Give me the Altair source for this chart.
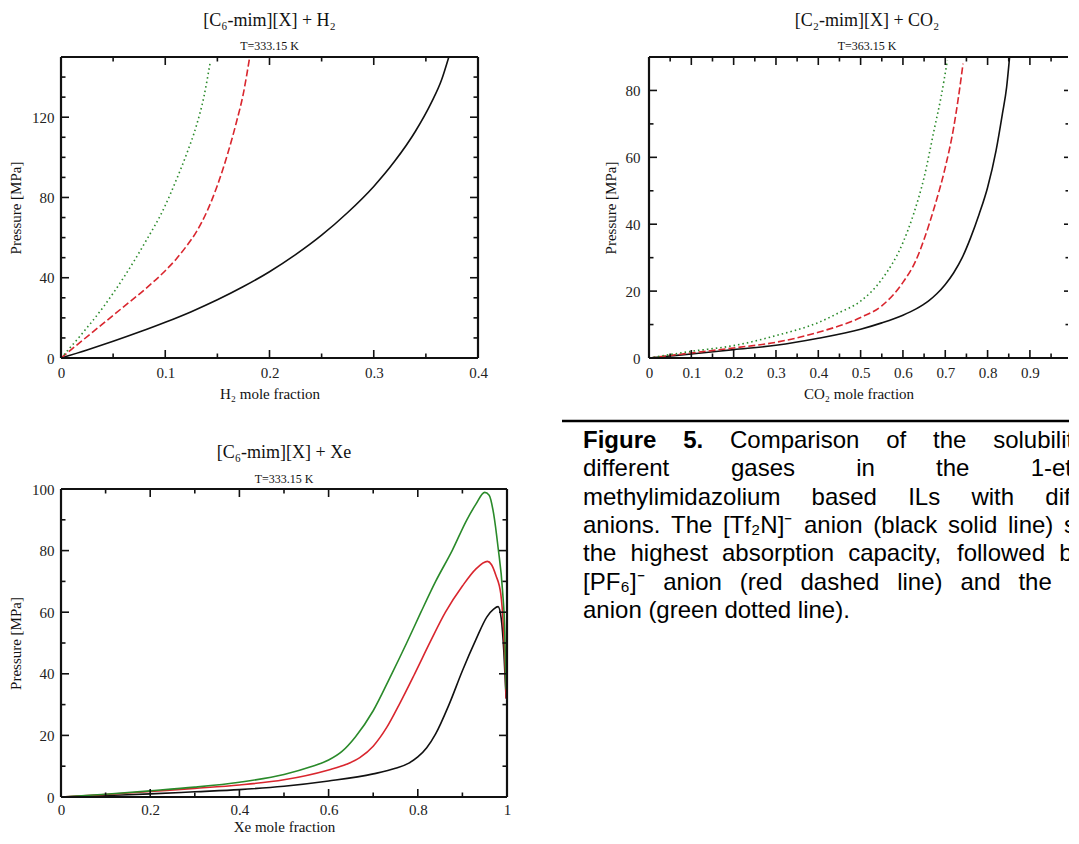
import altair as alt
import pandas as pd

# ---------------- data ----------------
# [C6-mim][X] + H2, T=333.15 K
h2_black_x = [0, 0.025, 0.05, 0.075, 0.1, 0.125, 0.15, 0.175, 0.2, 0.225, 0.25, 0.275, 0.3, 0.32, 0.34, 0.355, 0.365, 0.372]
h2_black_y = [0, 4, 8.3, 12.9, 17.8, 23.1, 29, 35.6, 43, 51.5, 61.2, 72.5, 85.5, 98, 113, 127, 138.5, 150]
h2_red_x = [0, 0.02, 0.04, 0.06, 0.08, 0.1, 0.11, 0.12, 0.13, 0.14, 0.15, 0.16, 0.168, 0.175, 0.181]
h2_red_y = [0, 8.5, 17, 25.5, 34, 43.5, 49, 55.5, 63, 73, 86, 102, 117, 132, 150]
h2_green_x = [0, 0.02, 0.04, 0.06, 0.08, 0.1, 0.11, 0.12, 0.13, 0.137, 0.143]
h2_green_y = [0, 12, 25, 40, 57, 76, 88, 101, 116, 130, 147]

# [C2-mim][X] + CO2, T=363.15 K
co2_black_x = [0, 0.05, 0.1, 0.2, 0.3, 0.4, 0.5, 0.55, 0.6, 0.63, 0.66, 0.68, 0.7, 0.72, 0.74, 0.76, 0.78, 0.8, 0.82, 0.835, 0.845, 0.852]
co2_black_y = [0, 0.6, 1.2, 2.5, 3.8, 5.9, 8.6, 10.5, 12.8, 14.6, 17, 19.2, 22, 25.5, 30, 36, 43, 51, 62, 73, 81, 90]
co2_red_x = [0, 0.1, 0.2, 0.3, 0.4, 0.5, 0.55, 0.6, 0.63, 0.65, 0.675, 0.7, 0.72, 0.73, 0.742]
co2_red_y = [0, 1.5, 3, 4.7, 7.7, 12.1, 15.6, 22.6, 29, 35.5, 45.4, 57, 69, 77, 88]
co2_green_x = [0, 0.1, 0.2, 0.3, 0.4, 0.45, 0.5, 0.55, 0.6, 0.625, 0.65, 0.675, 0.69, 0.705]
co2_green_y = [0, 2, 3.7, 6.7, 10.6, 13.6, 17, 23.5, 34.5, 43, 54, 69, 78, 89]

# [C6-mim][X] + Xe, T=333.15 K
xe_black_x = [0, 0.1, 0.2, 0.3, 0.4, 0.5, 0.6, 0.7, 0.75, 0.78, 0.8, 0.82, 0.84, 0.87, 0.9, 0.93, 0.955, 0.97, 0.98, 0.987, 0.993, 0.998]
xe_black_y = [0, 0.5, 1.0, 1.7, 2.4, 3.5, 5.2, 7.5, 9.3, 11, 13, 16, 20.5, 30, 41, 51, 58.5, 61, 61.8, 58, 47, 32]
xe_red_x = [0, 0.1, 0.2, 0.3, 0.4, 0.5, 0.6, 0.64, 0.67, 0.7, 0.73, 0.76, 0.793, 0.83, 0.862, 0.9, 0.93, 0.956, 0.965, 0.975, 0.986, 0.992, 0.996, 0.998]
xe_red_y = [0, 0.8, 1.8, 2.8, 3.9, 5.6, 8.8, 10.6, 12.8, 16.5, 22.5, 30.5, 40, 51, 60, 68.5, 74, 76.5, 75.5, 72, 66, 55, 42, 32]
xe_green_x = [0, 0.1, 0.2, 0.3, 0.4, 0.5, 0.56, 0.6, 0.63, 0.66, 0.7, 0.74, 0.775, 0.807, 0.84, 0.877, 0.91, 0.93, 0.95, 0.96, 0.97, 0.98, 0.99, 0.995, 0.998]
xe_green_y = [0, 0.9, 2.0, 3.2, 4.8, 7.3, 9.8, 12, 14.8, 19.5, 28, 39.5, 50, 60, 70, 80, 90, 95, 98.9, 98, 92, 81, 67, 54, 35]

# tick values
h2_x_major = [0, 0.1, 0.2, 0.3, 0.4]
h2_x_minor = [0.05, 0.15, 0.25, 0.35]
h2_y_major = [0, 40, 80, 120]
h2_y_minor = [10, 20, 30, 50, 60, 70, 90, 100, 110, 130, 140]
co2_x_major = [0, 0.1, 0.2, 0.3, 0.4, 0.5, 0.6, 0.7, 0.8, 0.9]
co2_x_minor = [0.05, 0.15, 0.25, 0.35, 0.45, 0.55, 0.65, 0.75, 0.85, 0.95]
co2_y_major = [0, 20, 40, 60, 80]
co2_y_minor = [10, 30, 50, 70]
xe_x_major = [0, 0.2, 0.4, 0.6, 0.8, 1]
xe_x_minor = [0.1, 0.3, 0.5, 0.7, 0.9]
xe_y_major = [0, 20, 40, 60, 80, 100]
xe_y_minor = [10, 30, 50, 70, 90]

caption_lines = [
    "Figure 5. Comparison of the solubility of",
    "different gases in the 1-ethyl-3-",
    "methylimidazolium based ILs with different",
    "anions. The [Tf\u2082N]\u207b anion (black solid line) shows",
    "the highest absorption capacity, followed by the",
    "[PF\u2086]\u207b anion (red dashed line) and the [BF\u2084]\u207b",
    "anion (green dotted line).",
]

# ---------------- styling ----------------
SERIF = "Liberation Serif"
SANS = "Liberation Sans"
BLACK = "#111111"
RED = "#d9262e"
GREEN = "#2a8a2a"
DASH = [7, 3]
DOT = [1.5, 3]

one = pd.DataFrame({"a": [0]})

ax_common = dict(grid=False, ticks=False, tickSize=0, domain=False,
                 labelFont=SERIF, labelFontSize=15, labelColor="#222222",
                 labelFlush=False, labelOverlap=False,
                 titleFont=SERIF, titleFontSize=15, titleFontWeight="normal",
                 titleColor="#111111")


def make_panel(curves, xdom, ydom, w, h, xmaj, xmin, ymaj, ymin, xlabels, ylabels,
               xtitle, title, subtitle, ty, sy, right_frame=True,
               ytp=8, ylp=7, xlp=7, xtp=6, title_x=None, top_pad=0):
    # the plot frame occupies y in [top_pad, top_pad + h] of the view
    H = h + top_pad
    xs = alt.Scale(domain=xdom, nice=False, zero=False)
    if top_pad:
        ys = alt.Scale(domain=ydom, nice=False, zero=False, range=[H, top_pad])
    else:
        ys = alt.Scale(domain=ydom, nice=False, zero=False)
    xax = alt.Axis(values=xlabels, format="~r", title=xtitle,
                   titlePadding=xtp, labelPadding=xlp, **ax_common)
    yax = alt.Axis(values=ylabels, format="~r", title="Pressure [MPa]",
                   titlePadding=ytp, labelPadding=ylp, **ax_common)
    tx = w / 2 if title_x is None else title_x

    def X(f):
        return alt.X(f, scale=xs, axis=xax, title=xtitle)

    def Y(f):
        return alt.Y(f, scale=ys, axis=yax, title="Pressure [MPa]")

    layers = []
    for cx, cy, color, dash in curves:
        df = pd.DataFrame({"x": cx, "y": cy, "i": list(range(len(cx)))})
        mk = dict(color=color, strokeWidth=1.6, clip=True, interpolate="monotone")
        if dash:
            mk["strokeDash"] = dash
        layers.append(alt.Chart(df).mark_line(**mk).encode(
            x=X("x:Q"), y=Y("y:Q"), order="i:Q"))

    def ticks(vals, orient, length):
        df = pd.DataFrame({"v": vals})
        m = alt.Chart(df).mark_rule(color=BLACK, strokeWidth=1.6)
        if orient == "bottom":
            return m.encode(x=X("v:Q"), y=alt.value(H), y2=alt.value(H - length))
        if orient == "top":
            return m.encode(x=X("v:Q"), y=alt.value(top_pad), y2=alt.value(top_pad + length))
        if orient == "left":
            return m.encode(y=Y("v:Q"), x=alt.value(0), x2=alt.value(length))
        return m.encode(y=Y("v:Q"), x=alt.value(w), x2=alt.value(w - length))

    for o in ["bottom", "top"]:
        layers.append(ticks(xmaj, o, 8))
        layers.append(ticks(xmin, o, 4.5))
    for o in ["left", "right"]:
        if o == "right" and not right_frame:
            layers.append(ticks(ymaj, o, 4))
            layers.append(ticks(ymin, o, 2.5))
        else:
            layers.append(ticks(ymaj, o, 8))
            layers.append(ticks(ymin, o, 4.5))

    fr = alt.Chart(one).mark_rule(color=BLACK, strokeWidth=2.2)
    layers.append(fr.encode(x=alt.value(0), y=alt.value(top_pad), y2=alt.value(H)))
    layers.append(fr.encode(x=alt.value(0), x2=alt.value(w), y=alt.value(H)))
    layers.append(fr.encode(x=alt.value(0), x2=alt.value(w), y=alt.value(top_pad)))
    if right_frame:
        layers.append(fr.encode(x=alt.value(w), y=alt.value(top_pad), y2=alt.value(H)))

    layers.append(alt.Chart(one).mark_text(font=SERIF, fontSize=18, color=BLACK, align="center",
                                           baseline="middle").encode(
        x=alt.value(tx), y=alt.value(top_pad + ty), text=alt.value(title)))
    layers.append(alt.Chart(one).mark_text(font=SERIF, fontSize=12, color=BLACK, align="center",
                                           baseline="middle").encode(
        x=alt.value(tx), y=alt.value(top_pad + sy), text=alt.value(subtitle)))
    return alt.layer(*layers).properties(width=w, height=H)


h2 = make_panel(
    [(h2_black_x, h2_black_y, BLACK, None), (h2_red_x, h2_red_y, RED, DASH), (h2_green_x, h2_green_y, GREEN, DOT)],
    [0, 0.4], [0, 150], 417, 301, h2_x_major, h2_x_minor, h2_y_major, h2_y_minor,
    h2_x_major, h2_y_major, "H\u2082 mole fraction", "[C\u2086-mim][X] + H\u2082", "T=333.15 K", -36, -11)

co2 = make_panel(
    [(co2_black_x, co2_black_y, BLACK, None), (co2_red_x, co2_red_y, RED, DASH), (co2_green_x, co2_green_y, GREEN, DOT)],
    [0, 0.99], [0, 90], 419, 301, co2_x_major, co2_x_minor, co2_y_major, co2_y_minor,
    co2_x_major, co2_y_major, "CO\u2082 mole fraction", "[C\u2082-mim][X] + CO\u2082", "T=363.15 K", -36, -11,
    right_frame=False, ytp=7, ylp=9, title_x=218)

XE_TOP_PAD = 70
xe = make_panel(
    [(xe_black_x, xe_black_y, BLACK, None), (xe_red_x, xe_red_y, RED, None), (xe_green_x, xe_green_y, GREEN, None)],
    [0, 1], [0, 100], 446, 308, xe_x_major, xe_x_minor, xe_y_major, xe_y_minor,
    xe_x_major, xe_y_major, "Xe mole fraction", "[C\u2086-mim][X] + Xe", "T=333.15  K", -36, -10,
    ytp=8, xlp=5, xtp=2, top_pad=XE_TOP_PAD)

# ---------------- caption (justified text, cut at the right edge) ----------------
AR = {" ": 278, "(": 333, ")": 333, ",": 278, "-": 333, ".": 278, "[": 278, "]": 278,
      "\u2082": 380, "\u2084": 380, "\u2086": 380, "\u207b": 380}
for ch in "0123456789":
    AR[ch] = 556
AR.update(dict(zip("ABCDEFGHIJKLMNOPQRSTUVWXYZ",
                   [667, 667, 722, 722, 667, 611, 778, 722, 278, 500, 667, 556, 833, 722, 778, 667, 778, 722, 667, 611, 722, 667, 944, 667, 667, 611])))
AR.update(dict(zip("abcdefghijklmnopqrstuvwxyz",
                   [556, 556, 500, 556, 556, 278, 556, 556, 222, 222, 500, 222, 833, 556, 556, 556, 556, 333, 500, 278, 556, 500, 722, 500, 500, 500])))
ARB = {"F": 611, "i": 278, "g": 611, "u": 611, "r": 389, "e": 556, "5": 556, ".": 278, " ": 278}

cap_font = 24
cap_lh = 28.3
cap_w = 507
cap_h = 220
col_w = 549
text_x0 = 21
rule_y = 2
cap_y0 = 22
vis = cap_w - text_x0


def tw(s, bold=False):
    t = ARB if bold else AR
    return sum(t.get(ch, AR.get(ch, 556)) for ch in s) * cap_font / 1000


rows = []
for li, line in enumerate(caption_lines):
    words = line.split(" ")
    bolds = [li == 0 and wi < 2 for wi in range(len(words))]
    widths = [tw(wd, b) for wd, b in zip(words, bolds)]
    last = li == len(caption_lines) - 1
    gap = tw(" ") if last else (col_w - sum(widths)) / (len(words) - 1)
    x = 0.0
    for wd, b, wdt in zip(words, bolds, widths):
        s = ""
        cx = x
        for ch in wd:
            if cx >= vis - 1:
                break
            s += ch
            cx += tw(ch, b)
        if s:
            rows.append(dict(t=s, px=text_x0 + x, py=cap_y0 + li * cap_lh, bold=b))
        x += wdt + gap

cap_df = pd.DataFrame(rows)
cxs = alt.Scale(domain=[0, cap_w], range=[0, cap_w], nice=False, zero=False)
cys = alt.Scale(domain=[0, cap_h], range=[0, cap_h], nice=False, zero=False)

cap_rule = alt.Chart(one).mark_rule(color="#000000", strokeWidth=2.5).encode(
    x=alt.value(0), x2=alt.value(cap_w), y=alt.value(rule_y))
cap_reg = alt.Chart(cap_df[~cap_df["bold"]]).mark_text(
    align="left", baseline="middle", font=SANS, fontSize=cap_font, color="#000000", clip=True).encode(
    x=alt.X("px:Q", scale=cxs, axis=None), y=alt.Y("py:Q", scale=cys, axis=None), text="t:N")
cap_bold = alt.Chart(cap_df[cap_df["bold"]]).mark_text(
    align="left", baseline="middle", font=SANS, fontSize=cap_font, fontWeight="bold",
    color="#000000", clip=True).encode(
    x=alt.X("px:Q", scale=cxs, axis=None), y=alt.Y("py:Q", scale=cys, axis=None), text="t:N")
caption = alt.layer(cap_rule, cap_reg, cap_bold).properties(width=cap_w, height=cap_h)

top = alt.hconcat(h2, co2, spacing=115)
bottom = alt.hconcat(xe, caption, spacing=49)
chart = alt.vconcat(top, bottom, spacing=18).properties(
    padding={"left": 0, "top": 4, "right": 0, "bottom": 0}
).configure_view(strokeOpacity=0)

chart.save("out.html", embed_options={"renderer": "svg", "actions": False})
